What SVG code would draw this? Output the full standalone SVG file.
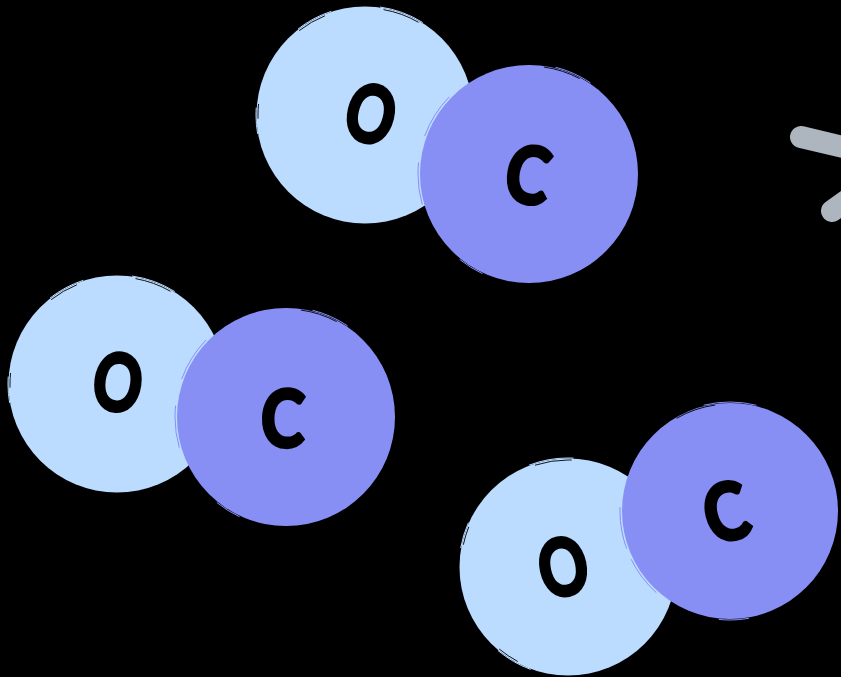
<svg xmlns="http://www.w3.org/2000/svg" width="841" height="677" viewBox="0 0 841 677">
<style>
.o{fill:#bbdcff}
.c{fill:#878ff5}
.lo,.lc,.k,.e{fill:none}
.lo{stroke:#bbdcff;stroke-width:1}
.lc{stroke:#878ff5;stroke-width:1}
.k{stroke:#000;stroke-width:.9}
.e{stroke:#878ff5;stroke-width:1}
.t{font-family:"Lato","Liberation Sans",sans-serif;font-weight:900;font-size:80px;fill:#000;stroke:#000;stroke-width:2.6;text-anchor:middle}
.a{fill:none;stroke:#adb5bf;stroke-width:22;stroke-linecap:round}
</style>
<rect width="841" height="677" fill="#000"/>
<g id="connectors">
<path class="a" d="M801 137L860 151"/>
<path class="a" d="M832 211L870 184"/>
</g>
<g id="mol1-o">
<circle class="o" cx="365" cy="115" r="108.5"/>
<circle class="lo" cx="365" cy="115" r="109" pathLength="360" stroke-dasharray="0 170 14 48 20 26 24 58"/>
<circle class="k" cx="365" cy="115" r="107" pathLength="360" stroke-dasharray="0 178 8 46 16 32 20 60"/>
<text class="t" transform="translate(364 142) rotate(14) scale(.76 1)">O</text>
</g>
<g id="mol1-c">
<circle class="c" cx="529" cy="174" r="109"/>
<circle class="e" cx="529" cy="174" r="111" pathLength="360" stroke-dasharray="0 164 22 14 24 136"/>
<circle class="lc" cx="529" cy="174" r="110" pathLength="360" stroke-dasharray="0 115 14 155 20 56"/>
<circle class="k" cx="529" cy="174" r="108" pathLength="360" stroke-dasharray="0 278 20 62"/>
<text class="t" transform="translate(523 203) rotate(10) scale(.84 1)">C</text>
</g>
<g id="mol2-o">
<circle class="o" cx="117" cy="384" r="108.5"/>
<circle class="lo" cx="117" cy="384" r="109" pathLength="360" stroke-dasharray="0 170 14 48 20 26 24 58"/>
<circle class="k" cx="117" cy="384" r="107" pathLength="360" stroke-dasharray="0 178 8 46 16 32 20 60"/>
<text class="t" transform="translate(114 411) rotate(8) scale(.76 1)">O</text>
</g>
<g id="mol2-c">
<circle class="c" cx="286" cy="417" r="109"/>
<circle class="e" cx="286" cy="417" r="111" pathLength="360" stroke-dasharray="0 164 22 14 24 136"/>
<circle class="lc" cx="286" cy="417" r="110" pathLength="360" stroke-dasharray="0 115 14 155 20 56"/>
<circle class="k" cx="286" cy="417" r="108" pathLength="360" stroke-dasharray="0 278 20 62"/>
<text class="t" transform="translate(282 447) rotate(2) scale(.84 1)">C</text>
</g>
<g id="mol3-o">
<circle class="o" cx="568" cy="567" r="108.5"/>
<circle class="lo" cx="568" cy="567" r="109" pathLength="360" stroke-dasharray="0 110 20 60 14 45 24 87"/>
<circle class="k" cx="568" cy="567" r="107" pathLength="360" stroke-dasharray="0 118 12 62 10 50 20 88"/>
<text class="t" transform="translate(569 595) rotate(-12) scale(.76 1)">O</text>
</g>
<g id="mol3-c">
<circle class="c" cx="730" cy="511" r="108"/>
<circle class="e" cx="730" cy="511" r="110" pathLength="360" stroke-dasharray="0 132 22 6 22 178"/>
<circle class="lc" cx="730" cy="511" r="109" pathLength="360" stroke-dasharray="0 80 16 160 28 76"/>
<circle class="k" cx="730" cy="511" r="107" pathLength="360" stroke-dasharray="0 240 22 98"/>
<text class="t" transform="translate(733 540) rotate(-14) scale(.84 1)">C</text>
</g>
</svg>
